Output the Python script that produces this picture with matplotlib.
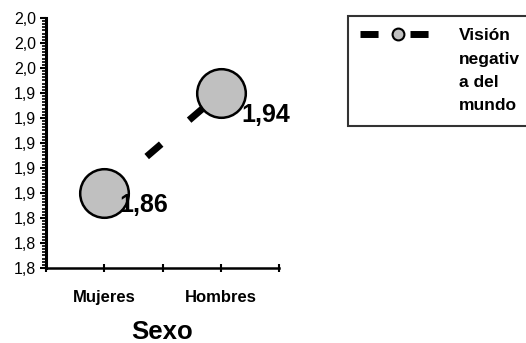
import numpy as np
import matplotlib
matplotlib.use("Agg")
import matplotlib.pyplot as plt
from matplotlib.lines import Line2D
from matplotlib.ticker import FixedLocator, MultipleLocator, FuncFormatter

categories = ["Mujeres", "Hombres"]
values = [1.86, 1.94]
value_labels = ["1,86", "1,94"]
label_offsets = [(11, -9), (15, -16)]  # points, label placement per point
series_name = "Visión\nnegativ\na del\nmundo"
y_ticks = [1.80, 1.82, 1.84, 1.86, 1.88, 1.90, 1.92, 1.94, 1.96, 1.98, 2.00]

plt.rcParams["font.family"] = ["Liberation Sans", "DejaVu Sans"]

fig = plt.figure(figsize=(5.26, 3.43), dpi=100)
ax = fig.add_axes([0.0875, 0.2187, 0.443, 0.729])

x = np.array([0.5, 1.5])
ax.plot(x, values, color="black", lw=5.0, linestyle=(0, (2.75, 5.3)),
        dash_capstyle="butt", zorder=2)
ax.plot(x, values, linestyle="none", marker="o", markersize=35,
        markerfacecolor="#C0C0C0", markeredgecolor="black",
        markeredgewidth=1.8, zorder=3)

for xi, v, lab, off in zip(x, values, value_labels, label_offsets):
    ax.annotate(lab, (xi, v), xytext=off, textcoords="offset points",
                fontsize=18, fontweight="bold", ha="left", va="center", zorder=4)

ax.set_xlim(0, 2)
ax.set_ylim(1.8, 2.0)
ax.yaxis.set_major_locator(FixedLocator(y_ticks))
ax.yaxis.set_minor_locator(MultipleLocator(0.0025))
ax.yaxis.set_major_formatter(FuncFormatter(lambda v, p: f"{v:.1f}".replace(".", ",")))
ax.tick_params(axis="y", which="major", labelsize=11.5, length=4, width=1.5,
               direction="out", pad=3)
ax.tick_params(axis="y", which="minor", length=3, width=1.2, direction="out")

ax.xaxis.set_major_locator(FixedLocator(x))
ax.xaxis.set_minor_locator(FixedLocator([0, 1, 2]))
ax.set_xticklabels(categories, fontsize=12, fontweight="bold")
ax.tick_params(axis="x", which="both", direction="inout", length=6, width=1.5, pad=13)

for s in ["top", "right"]:
    ax.spines[s].set_visible(False)
ax.spines["left"].set_linewidth(2.2)
ax.spines["bottom"].set_linewidth(1.8)

ax.set_xlabel("Sexo", fontsize=18.5, fontweight="bold", labelpad=11)

handle = Line2D([0], [0], color="black", lw=5, linestyle=(0, (2.6, 4.6)),
                dash_capstyle="butt", marker="o", markersize=8.5,
                markerfacecolor="#C0C0C0", markeredgecolor="black",
                markeredgewidth=1.5)
leg = fig.legend([handle], [series_name], loc="upper left",
                 bbox_to_anchor=(0.662, 0.953), frameon=True, fancybox=False,
                 prop={"size": 12.5, "weight": "bold"}, handlelength=4.3,
                 borderpad=0.7, handletextpad=1.4, borderaxespad=0)
leg.get_frame().set_edgecolor("black")
leg.get_frame().set_linewidth(1.5)
for t in leg.get_texts():
    t.set_linespacing(1.7)
# put the sample line at the top of the multi-line label, as in the original
leg._legend_handle_box.get_children()[0].get_children()[0].align = "top"

fig.savefig("out.png", dpi=100)
